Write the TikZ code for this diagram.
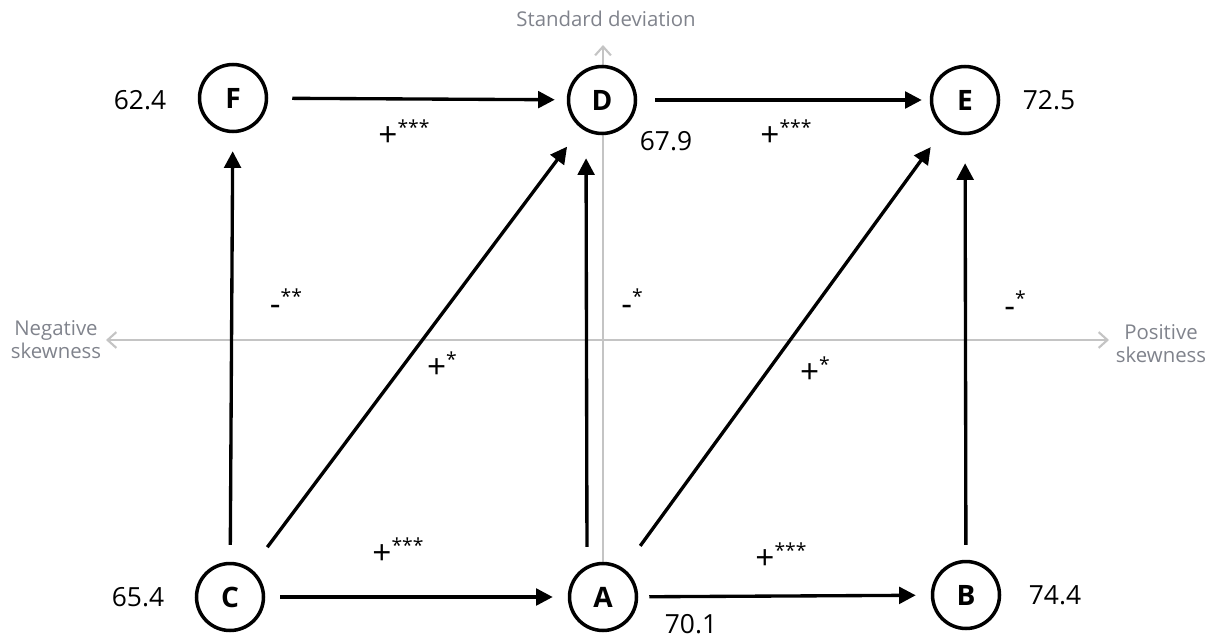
\documentclass[tikz,border=0pt]{standalone}
\usepackage{fontspec}
\setmainfont{Open Sans}
\usetikzlibrary{arrows.meta, calc, backgrounds}
\definecolor{axline}{RGB}{196,196,196}
\definecolor{axtext}{RGB}{128,131,140}
\newcommand{\sgn}[2]{{\fontsize{19}{20}\selectfont #1}\raisebox{7pt}{\fontsize{11}{12}\selectfont #2}}
\tikzset{
  stt/.style={circle, draw=black, line width=2pt, fill=white, inner sep=0pt,
              minimum size=1.34cm, font=\fontsize{16}{18}\selectfont\bfseries},
  num/.style={font=\fontsize{15}{18}\selectfont},
  sig/.style={inner sep=0pt},
  axl/.style={text=axtext, font=\fontsize{11.6}{13}\selectfont, align=center},
  axs/.style={draw=axline, line width=1.2pt},
  tipax/.tip={Straight Barb[length=5pt, width=9pt]},
  lnk/.style={-{Triangle[length=9.5pt, width=9.5pt]}, line width=1.9pt}
}

\begin{document}
\begin{tikzpicture}[x=0.02cm, y=-0.02cm]
  \useasboundingbox (0,0) rectangle (1217,639);
  % groups
  \node[stt] (F) at (233,98) {F};
  \node[stt] (D) at (602,100) {D};
  \node[stt] (E) at (965,100) {E};
  \node[stt] (C) at (230,597) {C};
  \node[stt] (A) at (603,597) {A};
  \node[stt] (B) at (966,595) {B};

  % axes
  \coordinate (sdTop) at (603,45);
  \coordinate (negEnd) at (106,340);
  \coordinate (posEnd) at (1109,340);
  \begin{scope}[on background layer]
    \draw[axs, -tipax] (A) -- (sdTop);
    \draw[axs, tipax-tipax] (negEnd) -- (posEnd);
  \end{scope}
  \node[axl] (sdLab) at (606,19) {Standard deviation};
  \node[axl] (negLab) at (56,340) {Negative\\skewness};
  \node[axl] (posLab) at (1161,344) {Positive\\skewness};

  % transitions
  \draw[lnk, shorten <=24*0.02cm, shorten >=12*0.02cm] (F) -- (D);
  \draw[lnk, shorten <=18*0.02cm, shorten >=8*0.02cm] (D) -- (E);
  \draw[lnk, shorten <=15*0.02cm, shorten >=15*0.02cm] (C) -- (A);
  \draw[lnk, shorten <=11*0.02cm, shorten >=15*0.02cm] (A) -- (B);
  \draw[lnk, shorten <=17*0.02cm, shorten >=18*0.02cm] (C) -- (F);
  \draw[lnk, shorten <=15*0.02cm, shorten >=23*0.02cm]
    ([xshift=-0.32cm]A.north) -- ([xshift=-0.32cm]D.south);
  \draw[lnk, shorten <=15*0.02cm, shorten >=28*0.02cm] (B) -- (E);
  \draw[lnk, shorten <=27*0.02cm, shorten >=23*0.02cm] (C) -- (D);
  \draw[lnk, shorten <=28*0.02cm, shorten >=23*0.02cm] (A) -- (E);

  % values
  \node[num] (vF) at (140,100) {62.4};
  \node[num] (vD) at (666,141) {67.9};
  \node[num] (vE) at (1049,100) {72.5};
  \node[num] (vC) at (138,597) {65.4};
  \node[num] (vA) at (691,624) {70.1};
  \node[num] (vB) at (1055,595) {74.4};

  % significance
  \node[sig] (sFD) at (404,133) {\sgn{+}{***}};
  \node[sig] (sDE) at (786,133) {\sgn{+}{***}};
  \node[sig] (sCA) at (398,551) {\sgn{+}{***}};
  \node[sig] (sAB) at (781,556) {\sgn{+}{***}};
  \node[sig] (sCF) at (286,302) {\sgn{-}{**}};
  \node[sig] (sAD) at (632,302) {\sgn{-}{*}};
  \node[sig] (sBE) at (1015,304) {\sgn{-}{*}};
  \node[sig] (sCD) at (442,365) {\sgn{+}{*}};
  \node[sig] (sAE) at (815,370) {\sgn{+}{*}};
\end{tikzpicture}
\end{document}
